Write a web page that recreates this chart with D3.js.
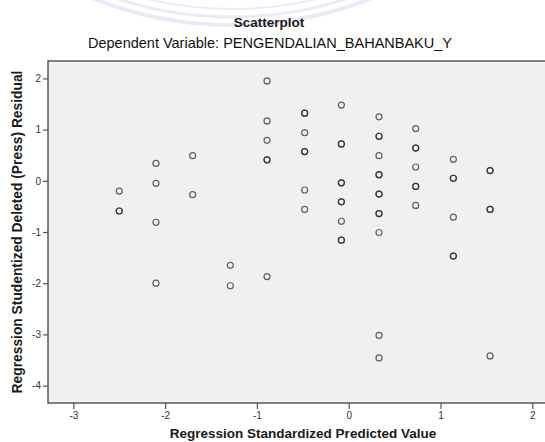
<!DOCTYPE html>
<html>
<head>
<meta charset="utf-8">
<script src="https://cdn.jsdelivr.net/npm/d3@7"></script>
<style>
  body { margin: 0; background: #fff; }
  text { font-family: "Liberation Sans", Arial, sans-serif; }
</style>
</head>
<body>
<div id="chart"></div>
<script>
// standardized predicted value (x) and studentized deleted residual (y)
// repeated pairs are cases that sit on top of each other
var predicted = [
  -2.50, -2.50, -2.50,
  -2.10, -2.10, -2.10, -2.10,
  -1.70, -1.70,
  -1.29, -1.29,
  -0.89, -0.89, -0.89, -0.89, -0.89, -0.89,
  -0.48, -0.48, -0.48, -0.48, -0.48, -0.48, -0.48,
  -0.08, -0.08, -0.08, -0.08, -0.08, -0.08, -0.08, -0.08, -0.08, -0.08,
  0.33, 0.33, 0.33, 0.33, 0.33, 0.33, 0.33, 0.33, 0.33, 0.33, 0.33, 0.33, 0.33,
  0.73, 0.73, 0.73, 0.73, 0.73, 0.73, 0.73,
  1.14, 1.14, 1.14, 1.14, 1.14, 1.14,
  1.54, 1.54, 1.54, 1.54, 1.54
]
var residual = [
  -0.20, -0.59, -0.59,
  0.34, -0.05, -0.81, -2.00,
  0.49, -0.27,
  -1.65, -2.05,
  1.95, 1.17, 0.79, 0.41, 0.41, -1.87,
  1.32, 1.32, 0.94, 0.57, 0.57, -0.18, -0.56,
  1.48, 0.72, 0.72, -0.04, -0.04, -0.41, -0.41, -0.79, -1.16, -1.16,
  1.25, 0.87, 0.87, 0.49, 0.12, 0.12, -0.26, -0.26, -0.64, -0.64, -1.01, -3.02, -3.46,
  1.02, 0.64, 0.64, 0.27, -0.11, -0.11, -0.48,
  0.42, 0.05, 0.05, -0.71, -1.47, -1.47,
  0.20, 0.20, -0.56, -0.56, -3.42
]
var xTicks = [-3, -2, -1, 0, 1, 2]
var yTicks = [2, 1, 0, -1, -2, -3, -4]

var title = 'Scatterplot'
var subtitle = 'Dependent Variable: PENGENDALIAN_BAHANBAKU_Y'
var xLabel = 'Regression Standardized Predicted Value'
var yLabel = 'Regression Studentized Deleted (Press) Residual'

var width = 545
var height = 442
var plot = { left: 48, top: 61, right: 558, bottom: 403 }

var svg = d3
  .select('#chart')
  .append('svg')
  .attr('width', width)
  .attr('height', height)

// faint watermark rings behind the title
var rings = svg.append('g').attr('fill', 'none').attr('stroke', '#ebebf8')
;[377, 369, 361].forEach(function(r, i) {
  rings
    .append('circle')
    .attr('cx', 232)
    .attr('cy', -352)
    .attr('r', r)
    .attr('stroke-width', 4 - i)
})

var x = d3.scaleLinear().domain([-3.276, 2.28]).range([plot.left, plot.right])
var y = d3.scaleLinear().domain([-4.34, 2.34]).range([plot.bottom, plot.top])

svg
  .append('rect')
  .attr('x', plot.left)
  .attr('y', plot.top)
  .attr('width', plot.right - plot.left)
  .attr('height', plot.bottom - plot.top)
  .attr('fill', '#f0f0f0')
  .attr('stroke', '#4d4d4d')
  .attr('stroke-width', 1.4)

// SPSS prints plain integers with an ascii hyphen
var fmt = d => String(d)

var xAxis = svg
  .append('g')
  .attr('transform', 'translate(0,' + plot.bottom + ')')
  .call(d3.axisBottom(x).tickValues(xTicks).tickFormat(fmt).tickSize(6).tickPadding(3))
xAxis.select('.domain').remove()

var yAxis = svg
  .append('g')
  .attr('transform', 'translate(' + plot.left + ',0)')
  .call(d3.axisLeft(y).tickValues(yTicks).tickFormat(fmt).tickSize(5).tickPadding(2))
yAxis.select('.domain').remove()

svg.selectAll('.tick line').attr('stroke', '#555').attr('stroke-width', 1.2)
svg
  .selectAll('.tick text')
  .attr('fill', '#333')
  .style('font-size', '10px')
  .style('font-family', '"Liberation Sans", Arial, sans-serif')

var points = predicted.map(function(d, i) {
  return { x: d, y: residual[i] }
})

svg
  .append('g')
  .selectAll('circle')
  .data(points)
  .join('circle')
  .attr('cx', d => x(d.x))
  .attr('cy', d => y(d.y))
  .attr('r', 3)
  .attr('fill', 'none')
  .attr('stroke', '#222')
  .attr('stroke-opacity', 0.7)
  .attr('stroke-width', 1.2)

svg
  .append('text')
  .attr('x', 269)
  .attr('y', 27)
  .attr('text-anchor', 'middle')
  .attr('font-weight', 'bold')
  .attr('font-size', 13.5)
  .attr('fill', '#1a1a1a')
  .text(title)

svg
  .append('text')
  .attr('x', 270)
  .attr('y', 48)
  .attr('text-anchor', 'middle')
  .attr('font-size', 14.5)
  .attr('fill', '#111')
  .text(subtitle)

svg
  .append('text')
  .attr('x', 303)
  .attr('y', 438)
  .attr('text-anchor', 'middle')
  .attr('font-weight', 'bold')
  .attr('font-size', 13.5)
  .attr('fill', '#1a1a1a')
  .text(xLabel)

svg
  .append('text')
  .attr('transform', 'translate(22,232) rotate(-90)')
  .attr('text-anchor', 'middle')
  .attr('font-weight', 'bold')
  .attr('font-size', 13.8)
  .attr('fill', '#1a1a1a')
  .text(yLabel)
</script>
</body>
</html>
